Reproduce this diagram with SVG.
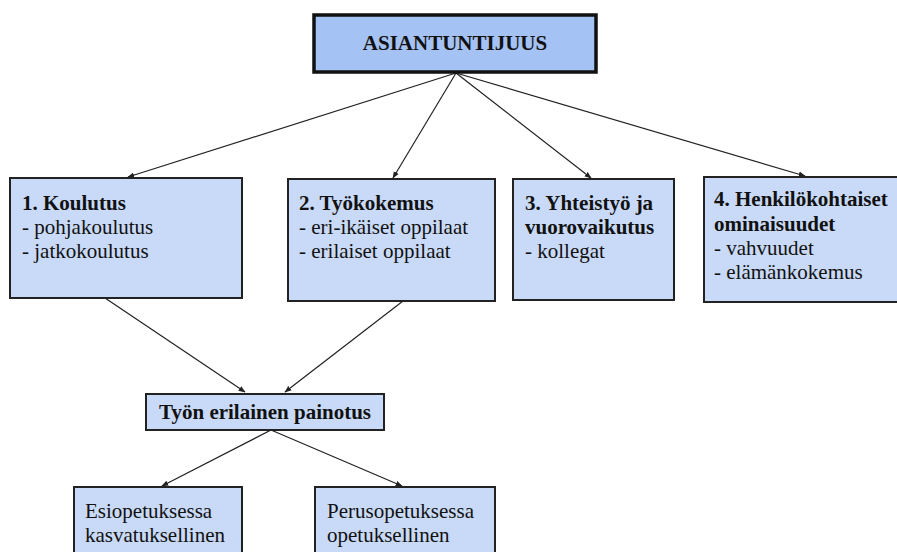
<svg xmlns="http://www.w3.org/2000/svg" width="897" height="552" viewBox="0 0 897 552">
  <style>
    .top { fill: #a4c2f4; stroke: #111; stroke-width: 3.5; }
    .box { fill: #c9daf8; stroke: #222; stroke-width: 2; }
    .t { font-family: 'Liberation Serif', serif; font-size: 21px; fill: #111; }
    .b { font-weight: bold; }
    .conn { stroke: #222; stroke-width: 1.2; fill: none; marker-end: url(#arr); }
  </style>
  <defs>
    <marker id="arr" viewBox="0 0 10 10" refX="9" refY="5" markerWidth="7" markerHeight="7" orient="auto" markerUnits="userSpaceOnUse">
      <path d="M0,1 L10,5 L0,9 z" fill="#222"/>
    </marker>
  </defs>
  <g id="connectors">
    <line class="conn" x1="456" y1="73" x2="128" y2="177"/>
    <line class="conn" x1="456" y1="73" x2="393" y2="178"/>
    <line class="conn" x1="456" y1="73" x2="591" y2="178"/>
    <line class="conn" x1="456" y1="73" x2="805" y2="176"/>
    <line class="conn" x1="105" y1="298" x2="245" y2="392"/>
    <line class="conn" x1="403" y1="301" x2="285" y2="392"/>
    <line class="conn" x1="271" y1="430" x2="162" y2="486"/>
    <line class="conn" x1="271" y1="430" x2="402" y2="486"/>
  </g>
  <g id="asiantuntijuus">
    <rect class="top" x="314" y="15" width="282" height="57"/>
    <text class="t b" style="font-family:'Liberation Serif',serif;font-size:21px" x="455" y="50" text-anchor="middle">ASIANTUNTIJUUS</text>
  </g>
  <g id="koulutus">
    <rect class="box" x="10" y="178" width="232" height="120"/>
    <text class="t b" style="font-family:'Liberation Serif',serif;font-size:21px" x="22" y="210">1. Koulutus</text>
    <text class="t" style="font-family:'Liberation Serif',serif;font-size:21px" x="22" y="234">- pohjakoulutus</text>
    <text class="t" style="font-family:'Liberation Serif',serif;font-size:21px" x="22" y="258">- jatkokoulutus</text>
  </g>
  <g id="tyokokemus">
    <rect class="box" x="288" y="179" width="207" height="122"/>
    <text class="t b" style="font-family:'Liberation Serif',serif;font-size:21px" x="299" y="210">2. Työkokemus</text>
    <text class="t" style="font-family:'Liberation Serif',serif;font-size:21px" x="299" y="234">- eri-ikäiset oppilaat</text>
    <text class="t" style="font-family:'Liberation Serif',serif;font-size:21px" x="299" y="258">- erilaiset oppilaat</text>
  </g>
  <g id="yhteistyo">
    <rect class="box" x="513" y="179" width="161" height="121"/>
    <text class="t b" style="font-family:'Liberation Serif',serif;font-size:21px" x="525" y="210">3. Yhteistyö ja</text>
    <text class="t b" style="font-family:'Liberation Serif',serif;font-size:21px" x="525" y="234">vuorovaikutus</text>
    <text class="t" style="font-family:'Liberation Serif',serif;font-size:21px" x="525" y="258">- kollegat</text>
  </g>
  <g id="henkilokohtaiset">
    <rect class="box" x="704" y="177" width="200" height="125"/>
    <text class="t b" style="font-family:'Liberation Serif',serif;font-size:21px" x="714" y="206">4. Henkilökohtaiset</text>
    <text class="t b" style="font-family:'Liberation Serif',serif;font-size:21px" x="714" y="231">ominaisuudet</text>
    <text class="t" style="font-family:'Liberation Serif',serif;font-size:21px" x="714" y="255">- vahvuudet</text>
    <text class="t" style="font-family:'Liberation Serif',serif;font-size:21px" x="714" y="279">- elämänkokemus</text>
  </g>
  <g id="painotus">
    <rect class="box" x="146" y="394" width="238" height="36"/>
    <text class="t b" style="font-family:'Liberation Serif',serif;font-size:21px" x="265" y="419" text-anchor="middle">Työn erilainen painotus</text>
  </g>
  <g id="esiopetus">
    <rect class="box" x="74" y="487" width="168" height="80"/>
    <text class="t" style="font-family:'Liberation Serif',serif;font-size:21px" x="85" y="518">Esiopetuksessa</text>
    <text class="t" style="font-family:'Liberation Serif',serif;font-size:21px" x="85" y="542">kasvatuksellinen</text>
  </g>
  <g id="perusopetus">
    <rect class="box" x="315" y="487" width="180" height="80"/>
    <text class="t" style="font-family:'Liberation Serif',serif;font-size:21px" x="327" y="518">Perusopetuksessa</text>
    <text class="t" style="font-family:'Liberation Serif',serif;font-size:21px" x="327" y="542">opetuksellinen</text>
  </g>
</svg>
